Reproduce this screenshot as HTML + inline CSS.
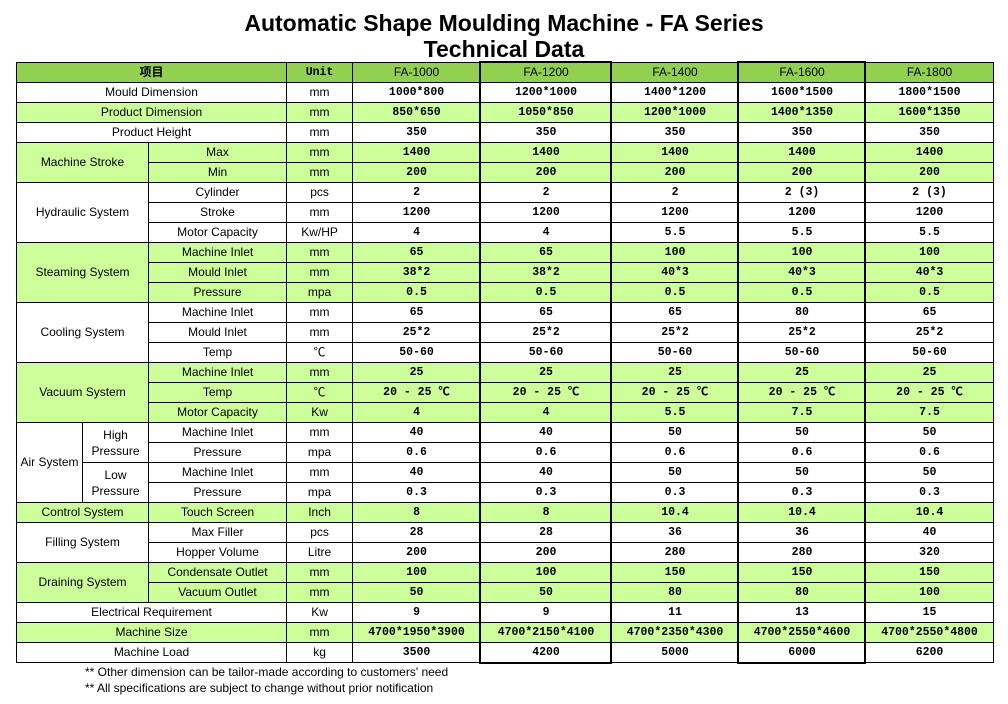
<!DOCTYPE html>
<html><head><meta charset="utf-8"><style>
body{margin:0;width:1008px;height:704px;background:#fff;position:relative;overflow:hidden;font-family:"Liberation Sans","Noto Sans CJK SC",sans-serif}
h1{position:absolute;left:0;width:1008px;top:10px;margin:0;text-align:center;font-size:23px;line-height:26px;font-weight:bold;color:#000}
table{position:absolute;left:16px;top:62px;border-collapse:collapse;table-layout:fixed;width:977px}
td{border:1px solid #000;height:19px;padding:0;text-align:center;font-size:12px;line-height:13px;overflow:hidden;white-space:nowrap}
td.v{font-family:"Liberation Mono","Noto Sans CJK SC",monospace;font-weight:bold;font-size:11.5px}
td.w{white-space:normal}
tr.h td{background:#92d050}
.g td{background:#ccff99}
.box{position:absolute;border:2px solid #000;top:61px;height:599px}
.note{position:absolute;left:85px;font-size:12px}
</style></head><body>
<h1>Automatic Shape Moulding Machine - FA Series<br>Technical Data</h1>
<table>
<colgroup><col style="width:66px"><col style="width:66px"><col style="width:138px"><col style="width:66px"><col style="width:128px"><col style="width:131px"><col style="width:127px"><col style="width:127px"><col style="width:128px"></colgroup>
<tr class="h"><td colspan="3" style="font-weight:bold">项目</td><td class="v">Unit</td><td>FA-1000</td><td>FA-1200</td><td>FA-1400</td><td>FA-1600</td><td>FA-1800</td></tr>
<tr><td colspan="3">Mould Dimension</td><td>mm</td><td class="v">1000*800</td><td class="v">1200*1000</td><td class="v">1400*1200</td><td class="v">1600*1500</td><td class="v">1800*1500</td></tr>
<tr class="g"><td colspan="3">Product Dimension</td><td>mm</td><td class="v">850*650</td><td class="v">1050*850</td><td class="v">1200*1000</td><td class="v">1400*1350</td><td class="v">1600*1350</td></tr>
<tr><td colspan="3">Product Height</td><td>mm</td><td class="v">350</td><td class="v">350</td><td class="v">350</td><td class="v">350</td><td class="v">350</td></tr>
<tr class="g"><td colspan="2" rowspan="2">Machine Stroke</td><td>Max</td><td>mm</td><td class="v">1400</td><td class="v">1400</td><td class="v">1400</td><td class="v">1400</td><td class="v">1400</td></tr>
<tr class="g"><td>Min</td><td>mm</td><td class="v">200</td><td class="v">200</td><td class="v">200</td><td class="v">200</td><td class="v">200</td></tr>
<tr><td colspan="2" rowspan="3">Hydraulic System</td><td>Cylinder</td><td>pcs</td><td class="v">2</td><td class="v">2</td><td class="v">2</td><td class="v">2 (3)</td><td class="v">2 (3)</td></tr>
<tr><td>Stroke</td><td>mm</td><td class="v">1200</td><td class="v">1200</td><td class="v">1200</td><td class="v">1200</td><td class="v">1200</td></tr>
<tr><td>Motor Capacity</td><td>Kw/HP</td><td class="v">4</td><td class="v">4</td><td class="v">5.5</td><td class="v">5.5</td><td class="v">5.5</td></tr>
<tr class="g"><td colspan="2" rowspan="3">Steaming System</td><td>Machine Inlet</td><td>mm</td><td class="v">65</td><td class="v">65</td><td class="v">100</td><td class="v">100</td><td class="v">100</td></tr>
<tr class="g"><td>Mould Inlet</td><td>mm</td><td class="v">38*2</td><td class="v">38*2</td><td class="v">40*3</td><td class="v">40*3</td><td class="v">40*3</td></tr>
<tr class="g"><td>Pressure</td><td>mpa</td><td class="v">0.5</td><td class="v">0.5</td><td class="v">0.5</td><td class="v">0.5</td><td class="v">0.5</td></tr>
<tr><td colspan="2" rowspan="3">Cooling System</td><td>Machine Inlet</td><td>mm</td><td class="v">65</td><td class="v">65</td><td class="v">65</td><td class="v">80</td><td class="v">65</td></tr>
<tr><td>Mould Inlet</td><td>mm</td><td class="v">25*2</td><td class="v">25*2</td><td class="v">25*2</td><td class="v">25*2</td><td class="v">25*2</td></tr>
<tr><td>Temp</td><td>℃</td><td class="v">50-60</td><td class="v">50-60</td><td class="v">50-60</td><td class="v">50-60</td><td class="v">50-60</td></tr>
<tr class="g"><td colspan="2" rowspan="3">Vacuum System</td><td>Machine Inlet</td><td>mm</td><td class="v">25</td><td class="v">25</td><td class="v">25</td><td class="v">25</td><td class="v">25</td></tr>
<tr class="g"><td>Temp</td><td>℃</td><td class="v">20 - 25 ℃</td><td class="v">20 - 25 ℃</td><td class="v">20 - 25 ℃</td><td class="v">20 - 25 ℃</td><td class="v">20 - 25 ℃</td></tr>
<tr class="g"><td>Motor Capacity</td><td>Kw</td><td class="v">4</td><td class="v">4</td><td class="v">5.5</td><td class="v">7.5</td><td class="v">7.5</td></tr>
<tr><td rowspan="4">Air System</td><td rowspan="2" class="w" style="line-height:16px">High<br>Pressure</td><td>Machine Inlet</td><td>mm</td><td class="v">40</td><td class="v">40</td><td class="v">50</td><td class="v">50</td><td class="v">50</td></tr>
<tr><td>Pressure</td><td>mpa</td><td class="v">0.6</td><td class="v">0.6</td><td class="v">0.6</td><td class="v">0.6</td><td class="v">0.6</td></tr>
<tr><td rowspan="2" class="w" style="line-height:16px">Low<br>Pressure</td><td>Machine Inlet</td><td>mm</td><td class="v">40</td><td class="v">40</td><td class="v">50</td><td class="v">50</td><td class="v">50</td></tr>
<tr><td>Pressure</td><td>mpa</td><td class="v">0.3</td><td class="v">0.3</td><td class="v">0.3</td><td class="v">0.3</td><td class="v">0.3</td></tr>
<tr class="g"><td colspan="2">Control System</td><td>Touch Screen</td><td>Inch</td><td class="v">8</td><td class="v">8</td><td class="v">10.4</td><td class="v">10.4</td><td class="v">10.4</td></tr>
<tr><td colspan="2" rowspan="2">Filling System</td><td>Max Filler</td><td>pcs</td><td class="v">28</td><td class="v">28</td><td class="v">36</td><td class="v">36</td><td class="v">40</td></tr>
<tr><td>Hopper Volume</td><td>Litre</td><td class="v">200</td><td class="v">200</td><td class="v">280</td><td class="v">280</td><td class="v">320</td></tr>
<tr class="g"><td colspan="2" rowspan="2">Draining System</td><td>Condensate Outlet</td><td>mm</td><td class="v">100</td><td class="v">100</td><td class="v">150</td><td class="v">150</td><td class="v">150</td></tr>
<tr class="g"><td>Vacuum Outlet</td><td>mm</td><td class="v">50</td><td class="v">50</td><td class="v">80</td><td class="v">80</td><td class="v">100</td></tr>
<tr><td colspan="3">Electrical Requirement</td><td>Kw</td><td class="v">9</td><td class="v">9</td><td class="v">11</td><td class="v">13</td><td class="v">15</td></tr>
<tr class="g"><td colspan="3">Machine Size</td><td>mm</td><td class="v">4700*1950*3900</td><td class="v">4700*2150*4100</td><td class="v">4700*2350*4300</td><td class="v">4700*2550*4600</td><td class="v">4700*2550*4800</td></tr>
<tr><td colspan="3">Machine Load</td><td>kg</td><td class="v">3500</td><td class="v">4200</td><td class="v">5000</td><td class="v">6000</td><td class="v">6200</td></tr>
</table>
<div class="box" style="left:479px;width:129px"></div>
<div class="box" style="left:737px;width:125px"></div>
<div class="note" style="top:665px">** Other dimension can be tailor-made according to customers' need</div>
<div class="note" style="top:681px">** All specifications are subject to change without prior notification</div>
</body></html>
